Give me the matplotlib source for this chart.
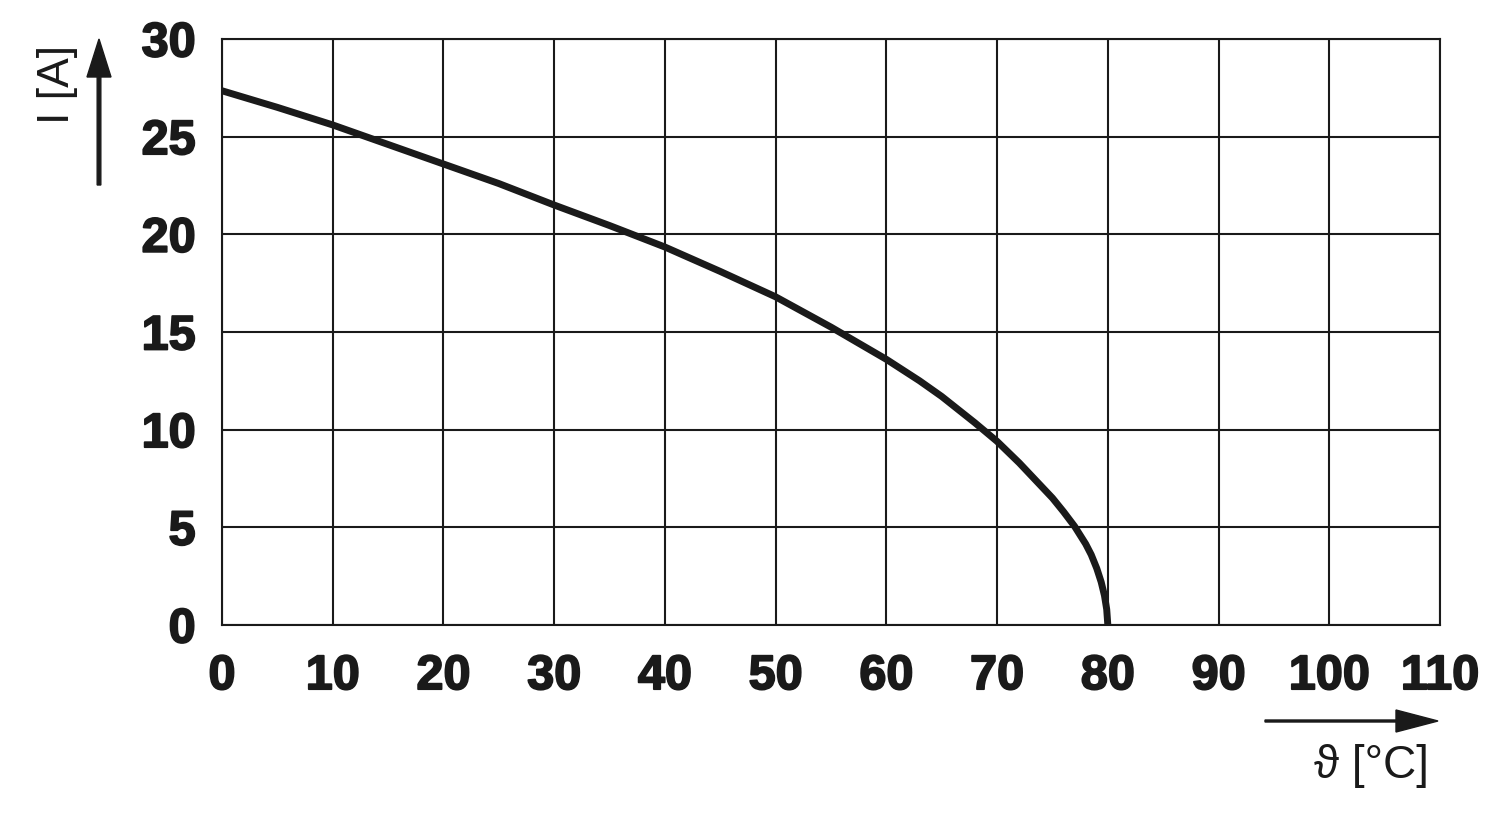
import matplotlib
matplotlib.use("Agg")
import matplotlib.pyplot as plt
import matplotlib.patheffects as pe

# Data
temp_c = [0, 5, 10, 15, 20, 25, 30, 35, 40, 45, 50, 55, 60, 63, 65, 68, 70, 72, 74, 75, 76, 77, 78,
          78.5, 79, 79.4, 79.7, 79.9, 80]
current_a = [27.35, 26.5, 25.6, 24.6, 23.6, 22.6, 21.5, 20.45, 19.35, 18.1, 16.8, 15.25, 13.6, 12.5,
             11.7, 10.35, 9.4, 8.3, 7.1, 6.5, 5.8, 5.05, 4.15, 3.6, 2.9, 2.2, 1.5, 0.8, 0.0]
x_ticks = [0, 10, 20, 30, 40, 50, 60, 70, 80, 90, 100, 110]
y_ticks = [0, 5, 10, 15, 20, 25, 30]
x_label = "ϑ [°C]"
y_label = "I [A]"

W, H = 1500, 820
fig = plt.figure(figsize=(15, 8.2), dpi=100)
ax = fig.add_axes([222 / W, 1 - 626 / H, (1440 - 222) / W, (626 - 40) / H])

ax.plot(temp_c, current_a, color="#1a1a1a", lw=5.0, solid_capstyle="round", solid_joinstyle="round", zorder=3)

ax.set_xlim(0, 110)
ax.set_ylim(0, 30)
ax.set_xticks(x_ticks)
ax.set_yticks(y_ticks)
ax.grid(True, color="#1a1a1a", lw=1.5)
for s in ax.spines.values():
    s.set_color("#1a1a1a")
    s.set_linewidth(1.5)
ax.tick_params(length=0, labelsize=35, colors="#1a1a1a")
ax.tick_params(axis="y", pad=19)
ax.tick_params(axis="x", pad=21)
for lab in ax.get_xticklabels() + ax.get_yticklabels():
    lab.set_fontweight("bold")
    lab.set_fontfamily("Liberation Sans")
    lab.set_path_effects([pe.withStroke(linewidth=1.3, foreground="#1a1a1a")])

# Axis labels
fig.text(57 / W, 1 - 85 / H, y_label, rotation=90, ha="center", va="center",
         fontsize=32, family="Liberation Sans", color="#1a1a1a")
fig.text(1371 / W, 1 - 766 / H, x_label, ha="center", va="center",
         fontsize=33, family=["Liberation Sans", "DejaVu Sans"], color="#1a1a1a")

# Arrows
fig.add_artist(matplotlib.patches.FancyArrow(99 / W, 1 - 186 / H, 0, (186 - 40) / H,
               width=2 / H, head_width=24 / W, head_length=38 / H, length_includes_head=True,
               color="#1a1a1a", transform=fig.transFigure))
fig.add_artist(matplotlib.patches.FancyArrow(1265 / W, 1 - 722 / H, (1438 - 1265) / W, 0,
               width=2 / H, head_width=22 / H, head_length=42 / W, length_includes_head=True,
               color="#1a1a1a", transform=fig.transFigure))

fig.savefig("out.png", dpi=100, facecolor="white")
